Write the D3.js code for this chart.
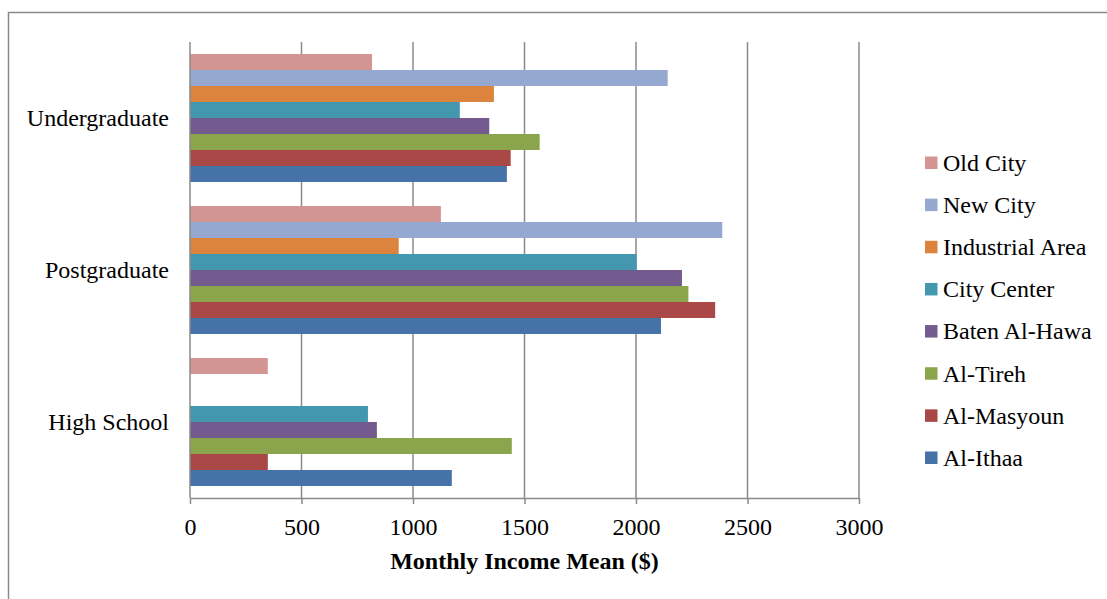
<!DOCTYPE html>
<html>
<head>
<meta charset="utf-8">
<script src="https://cdn.jsdelivr.net/npm/d3@7"></script>
<style>
  html, body { margin: 0; padding: 0; background: #fff; }
  svg { display: block; font-family: "Liberation Serif", "Times New Roman", serif; }
</style>
</head>
<body>
<svg id="chart" width="1107" height="599"></svg>
<script>
// ---- data ----
const categories = ["Undergraduate", "Postgraduate", "High School"];
const seriesNames = ["Old City", "New City", "Industrial Area", "City Center", "Baten Al-Hawa", "Al-Tireh", "Al-Masyoun", "Al-Ithaa"];
const seriesColors = ["#D39594", "#95A9D0", "#DC843E", "#4398AF", "#735A8F", "#8BA54D", "#A94846", "#4573A7"];
const oldCity       = [816, 1125, 349];
const newCity       = [2142, 2387, 0];
const industrialArea= [1363, 936, 0];
const cityCenter    = [1210, 2003, 798];
const batenAlHawa   = [1342, 2206, 838];
const alTireh       = [1568, 2235, 1443];
const alMasyoun     = [1438, 2355, 349];
const alIthaa       = [1421, 2112, 1174];
const seriesValues = [oldCity, newCity, industrialArea, cityCenter, batenAlHawa, alTireh, alMasyoun, alIthaa];
const xTicks = [0, 500, 1000, 1500, 2000, 2500, 3000];
const xTitle = "Monthly Income Mean ($)";

// ---- layout ----
const svg = d3.select("#chart");
const plot = { left: 190, right: 859, top: 42, bottom: 498 };
const FONT = 24;
const gridColor = "#8a8a8a";

// outer border
svg.append("rect")
  .attr("x", 8.5).attr("y", 12.5)
  .attr("width", 1120).attr("height", 620)
  .attr("fill", "none").attr("stroke", "#8a8a8a").attr("stroke-width", 1.5);

const x = d3.scaleLinear().domain([0, 3000]).range([plot.left, plot.right]);
const y0 = d3.scaleBand().domain(categories).range([plot.top, plot.bottom])
  .paddingInner(24 / 152).paddingOuter(12 / 152);
const y1 = d3.scaleBand().domain(seriesNames).range([0, y0.bandwidth()]);

// gridlines
svg.append("g").selectAll("line").data(xTicks.slice(1)).join("line")
  .attr("x1", d => x(d)).attr("x2", d => x(d))
  .attr("y1", plot.top).attr("y2", plot.bottom)
  .attr("stroke", gridColor).attr("stroke-width", 1.5);

// bars
const groups = svg.append("g").selectAll("g").data(categories).join("g")
  .attr("transform", c => `translate(0,${y0(c)})`);
groups.each(function(c, ci) {
  d3.select(this).selectAll("rect")
    .data(seriesNames.map((s, si) => ({ s, si, v: seriesValues[si][ci] })).filter(d => d.v > 0))
    .join("rect")
    .attr("x", x(0))
    .attr("y", d => y1(d.s))
    .attr("width", d => x(d.v) - x(0))
    .attr("height", y1.bandwidth())
    .attr("fill", d => seriesColors[d.si]);
});

// x axis
const xAxis = d3.axisBottom(x).tickValues(xTicks).tickFormat(d3.format("d"))
  .tickSize(6).tickSizeOuter(0).tickPadding(14);
const xg = svg.append("g").attr("transform", `translate(0,${plot.bottom})`).call(xAxis);
xg.select(".domain").attr("stroke", gridColor).attr("stroke-width", 1.5);
xg.selectAll(".tick line").attr("stroke", gridColor).attr("stroke-width", 1.5);
xg.selectAll(".tick text").attr("font-size", FONT).attr("font-family", "Liberation Serif, Times New Roman, serif").attr("fill", "#000");

// y axis
const yAxis = d3.axisLeft(y0).tickSize(0).tickPadding(21);
const yg = svg.append("g").attr("transform", `translate(${plot.left},0)`).call(yAxis);
yg.select(".domain").attr("d", `M0,${plot.top}V${plot.bottom}`).attr("stroke", gridColor).attr("stroke-width", 1.5);
yg.selectAll(".tick text").attr("font-size", FONT).attr("font-family", "Liberation Serif, Times New Roman, serif").attr("fill", "#000");

// x title
svg.append("text")
  .attr("x", (plot.left + plot.right) / 2).attr("y", 569)
  .attr("text-anchor", "middle").attr("font-weight", "bold").attr("font-size", FONT)
  .text(xTitle);

// legend
const legendY = d3.scalePoint().domain(seriesNames).range([163, 458]);
const lg = svg.append("g").selectAll("g").data(seriesNames).join("g")
  .attr("transform", d => `translate(925,${legendY(d)})`);
lg.append("rect").attr("x", 0).attr("y", -6.5).attr("width", 12.5).attr("height", 12.5)
  .attr("fill", (d, i) => seriesColors[i]);
lg.append("text").attr("x", 18).attr("y", 0).attr("dy", "0.33em")
  .attr("font-size", FONT).text(d => d);
</script>
</body>
</html>
